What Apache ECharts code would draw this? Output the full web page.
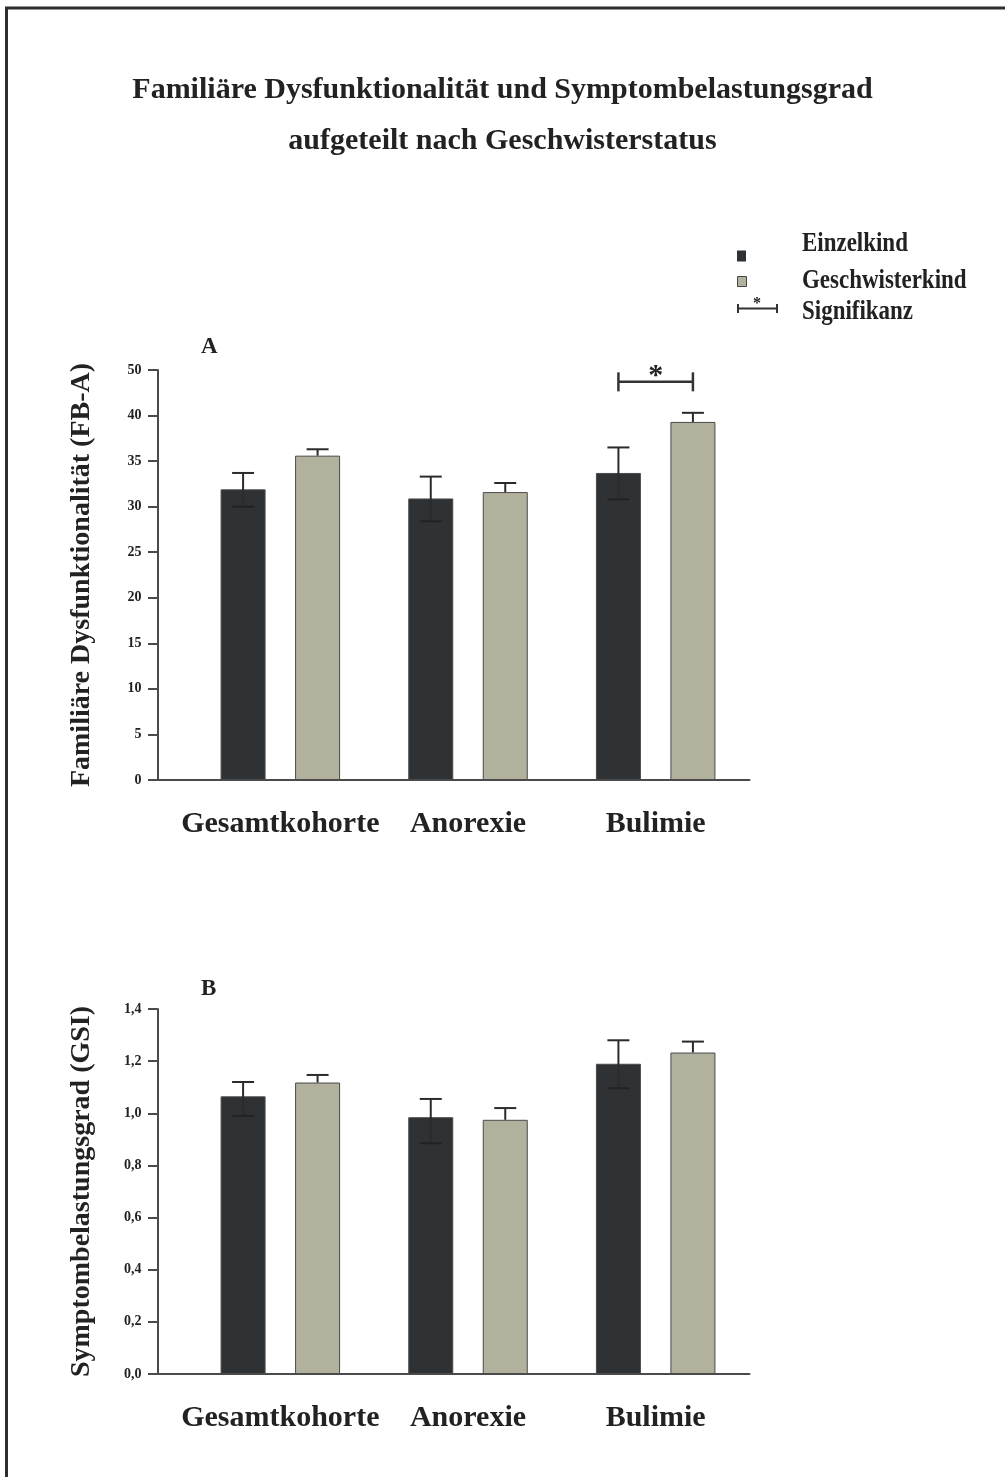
<!DOCTYPE html>
<html>
<head>
<meta charset="utf-8">
<script src="https://cdn.jsdelivr.net/npm/echarts@6/dist/echarts.min.js"></script>
<style>
html,body{margin:0;padding:0;background:#fff;}
#chart{width:1005px;height:1477px;}
</style>
</head>
<body>
<div id="chart"></div>
<script>
// ---------- data ----------
const categories = ['Gesamtkohorte', 'Anorexie', 'Bulimie'];
const seriesNames = ['Einzelkind', 'Geschwisterkind'];

// Panel A: Familiäre Dysfunktionalität (FB-A)
const fbaEinzel      = [31.9, 30.9, 33.7];
const fbaEinzelHigh  = [33.7, 33.3, 36.5];
const fbaEinzelLow   = [30.0, 28.4, 30.8];
const fbaGeschw      = [35.6, 31.6, 39.3];
const fbaGeschwHigh  = [36.3, 32.6, 40.3];
const fbaTickLabels  = ['0', '5', '10', '15', '20', '25', '30', '35', '40', '50'];

// Panel B: Symptombelastungsgrad (GSI)
const gsiEinzel      = [1.065, 0.985, 1.19];
const gsiEinzelHigh  = [1.12, 1.055, 1.28];
const gsiEinzelLow   = [0.99, 0.885, 1.096];
const gsiGeschw      = [1.118, 0.975, 1.233];
const gsiGeschwHigh  = [1.147, 1.02, 1.275];
const gsiTickLabels  = ['0,0', '0,2', '0,4', '0,6', '0,8', '1,0', '1,2', '1,4'];

// significance bracket (panel A)
const sigCategory = 2;
const sigLevel = 43.7;

// ---------- style ----------
const FONT = "'Liberation Serif', 'Times New Roman', serif";
const DARK = '#2f3234';
const GREY = '#b2b19d';
const TXT = '#222';
const AX = '#4a4a4a';
const BAR_W = 45;
const BAR_GAP = 29.5;
const OFF = (BAR_W + BAR_GAP) / 2;

function errData(high, low, value, sIdx) {
  return categories.map((c, i) => [i, low ? low[i] : value[i], high[i], sIdx]);
}

function renderErr(params, api) {
  const i = api.value(0);
  const s = api.value(3);
  const top = api.coord([i, api.value(2)]);
  const bot = api.coord([i, api.value(1)]);
  const x = top[0] + (s === 0 ? -OFF : OFF);
  const ls = { stroke: '#2b2b2b', lineWidth: 2 };
  const children = [
    { type: 'line', shape: { x1: x, y1: bot[1], x2: x, y2: top[1] }, style: ls },
    { type: 'line', shape: { x1: x - 11, y1: top[1], x2: x + 11, y2: top[1] }, style: ls }
  ];
  if (s === 0) {
    children.push({ type: 'line', shape: { x1: x - 11, y1: bot[1], x2: x + 11, y2: bot[1] }, style: { stroke: '#222', lineWidth: 2 } });
  }
  return { type: 'group', children };
}

function renderSig(params, api) {
  const c = api.coord([api.value(0), api.value(1)]);
  const x1 = c[0] - OFF, x2 = c[0] + OFF, y = c[1];
  const ls = { stroke: '#333', lineWidth: 2.5 };
  return {
    type: 'group',
    children: [
      { type: 'line', shape: { x1, y1: y, x2, y2: y }, style: ls },
      { type: 'line', shape: { x1, y1: y - 9.5, x2: x1, y2: y + 9.5 }, style: ls },
      { type: 'line', shape: { x1: x2, y1: y - 9.5, x2, y2: y + 9.5 }, style: ls },
      { type: 'text', x: c[0], y: y - 6, style: { text: '*', font: 'bold 30px ' + FONT, fill: '#222', align: 'center', verticalAlign: 'middle' } }
    ]
  };
}

const yAxisCommon = {
  type: 'value',
  offset: 29,
  nameLocation: 'middle',
  nameRotate: 90,
  nameGap: 62,
  nameTextStyle: { fontFamily: FONT, fontWeight: 'bold', fontSize: 28, color: TXT },
  axisLine: { show: true, lineStyle: { color: AX, width: 2 } },
  axisTick: { show: true, length: 9.5, lineStyle: { color: AX, width: 2 } },
  splitLine: { show: false },
  axisLabel: { fontFamily: FONT, fontWeight: 'bold', fontSize: 14, color: TXT, margin: 16 }
};

const xAxisCommon = {
  type: 'category',
  data: categories,
  axisLine: { show: true, lineStyle: { color: AX, width: 2 } },
  axisTick: { show: false },
  axisLabel: { interval: 0, hideOverlap: false, fontFamily: FONT, fontWeight: 'bold', fontSize: 30, color: TXT, margin: 29 }
};

const barCommon = (name, color, data, xi) => ({
  type: 'bar',
  name,
  xAxisIndex: xi,
  yAxisIndex: xi,
  data,
  barWidth: BAR_W,
  barGap: (BAR_GAP / BAR_W * 100) + '%',
  itemStyle: { color, borderColor: '#4a4a4a', borderWidth: 1 },
  z: 2
});

const chart = echarts.init(document.getElementById('chart'), null, { renderer: 'canvas' });
chart.setOption({
  backgroundColor: '#fff',
  animation: false,
  title: [
    {
      text: 'Familiäre Dysfunktionalität und Symptombelastungsgrad\naufgeteilt nach Geschwisterstatus',
      left: 'center',
      top: 60,
      textStyle: { fontFamily: FONT, fontWeight: 'bold', fontSize: 30, color: TXT, lineHeight: 51 }
    },
    { text: 'A', left: 196, top: 331, textStyle: { fontFamily: FONT, fontWeight: 'bold', fontSize: 23, color: TXT } },
    { text: 'B', left: 196, top: 973, textStyle: { fontFamily: FONT, fontWeight: 'bold', fontSize: 23, color: TXT } }
  ],
  grid: [
    { left: 186.5, right: 255.5, top: 370, height: 410 },
    { left: 186.5, right: 255.5, top: 1009, height: 365 }
  ],
  xAxis: [
    Object.assign({ gridIndex: 0 }, xAxisCommon),
    Object.assign({ gridIndex: 1 }, xAxisCommon)
  ],
  yAxis: [
    Object.assign({}, yAxisCommon, {
      gridIndex: 0, min: 0, max: 45, interval: 5,
      name: 'Familiäre Dysfunktionalität (FB-A)',
      axisLabel: Object.assign({}, yAxisCommon.axisLabel, { formatter: v => fbaTickLabels[Math.round(v / 5)] })
    }),
    Object.assign({}, yAxisCommon, {
      gridIndex: 1, min: 0, max: 1.4, interval: 0.2,
      name: 'Symptombelastungsgrad (GSI)',
      axisLabel: Object.assign({}, yAxisCommon.axisLabel, { formatter: v => gsiTickLabels[Math.round(v / 0.2)] })
    })
  ],
  series: [
    barCommon(seriesNames[0], DARK, fbaEinzel, 0),
    barCommon(seriesNames[1], GREY, fbaGeschw, 0),
    barCommon(seriesNames[0], DARK, gsiEinzel, 1),
    barCommon(seriesNames[1], GREY, gsiGeschw, 1),
    { type: 'custom', xAxisIndex: 0, yAxisIndex: 0, renderItem: renderErr, data: errData(fbaEinzelHigh, fbaEinzelLow, fbaEinzel, 0), z: 5, clip: false },
    { type: 'custom', xAxisIndex: 0, yAxisIndex: 0, renderItem: renderErr, data: errData(fbaGeschwHigh, null, fbaGeschw, 1), z: 5, clip: false },
    { type: 'custom', xAxisIndex: 1, yAxisIndex: 1, renderItem: renderErr, data: errData(gsiEinzelHigh, gsiEinzelLow, gsiEinzel, 0), z: 5, clip: false },
    { type: 'custom', xAxisIndex: 1, yAxisIndex: 1, renderItem: renderErr, data: errData(gsiGeschwHigh, null, gsiGeschw, 1), z: 5, clip: false },
    { type: 'custom', xAxisIndex: 0, yAxisIndex: 0, renderItem: renderSig, data: [[sigCategory, sigLevel]], z: 5, clip: false }
  ],
  graphic: [
    // frame
    { type: 'rect', shape: { x: 6.5, y: 8, width: 1200, height: 1700 }, style: { fill: 'none', stroke: '#2e2e2e', lineWidth: 3 }, silent: true },
    // baseline extension between y axis and grid
    { type: 'line', shape: { x1: 157.5, y1: 780, x2: 187, y2: 780 }, style: { stroke: AX, lineWidth: 2 } },
    { type: 'line', shape: { x1: 157.5, y1: 1374, x2: 187, y2: 1374 }, style: { stroke: AX, lineWidth: 2 } },
    // legend
    { type: 'rect', shape: { x: 737, y: 250.5, width: 9, height: 11 }, style: { fill: DARK } },
    { type: 'rect', shape: { x: 737.5, y: 276.5, width: 9, height: 10 }, style: { fill: GREY, stroke: '#444', lineWidth: 1 } },
    { type: 'line', shape: { x1: 737, y1: 308.5, x2: 778, y2: 308.5 }, style: { stroke: '#333', lineWidth: 2 } },
    { type: 'line', shape: { x1: 738, y1: 304, x2: 738, y2: 313 }, style: { stroke: '#333', lineWidth: 2 } },
    { type: 'line', shape: { x1: 777, y1: 304, x2: 777, y2: 313 }, style: { stroke: '#333', lineWidth: 2 } },
    { type: 'text', x: 757, y: 304, style: { text: '*', font: 'bold 16px ' + FONT, fill: '#222', align: 'center', verticalAlign: 'middle' } },
    { type: 'text', x: 802, y: 244, scaleX: 0.82, style: { text: seriesNames[0], font: 'bold 28px ' + FONT, fill: TXT, verticalAlign: 'middle' } },
    { type: 'text', x: 802, y: 281, scaleX: 0.82, style: { text: seriesNames[1], font: 'bold 28px ' + FONT, fill: TXT, verticalAlign: 'middle' } },
    { type: 'text', x: 802, y: 312, scaleX: 0.82, style: { text: 'Signifikanz', font: 'bold 28px ' + FONT, fill: TXT, verticalAlign: 'middle' } }
  ]
});
</script>
</body>
</html>
